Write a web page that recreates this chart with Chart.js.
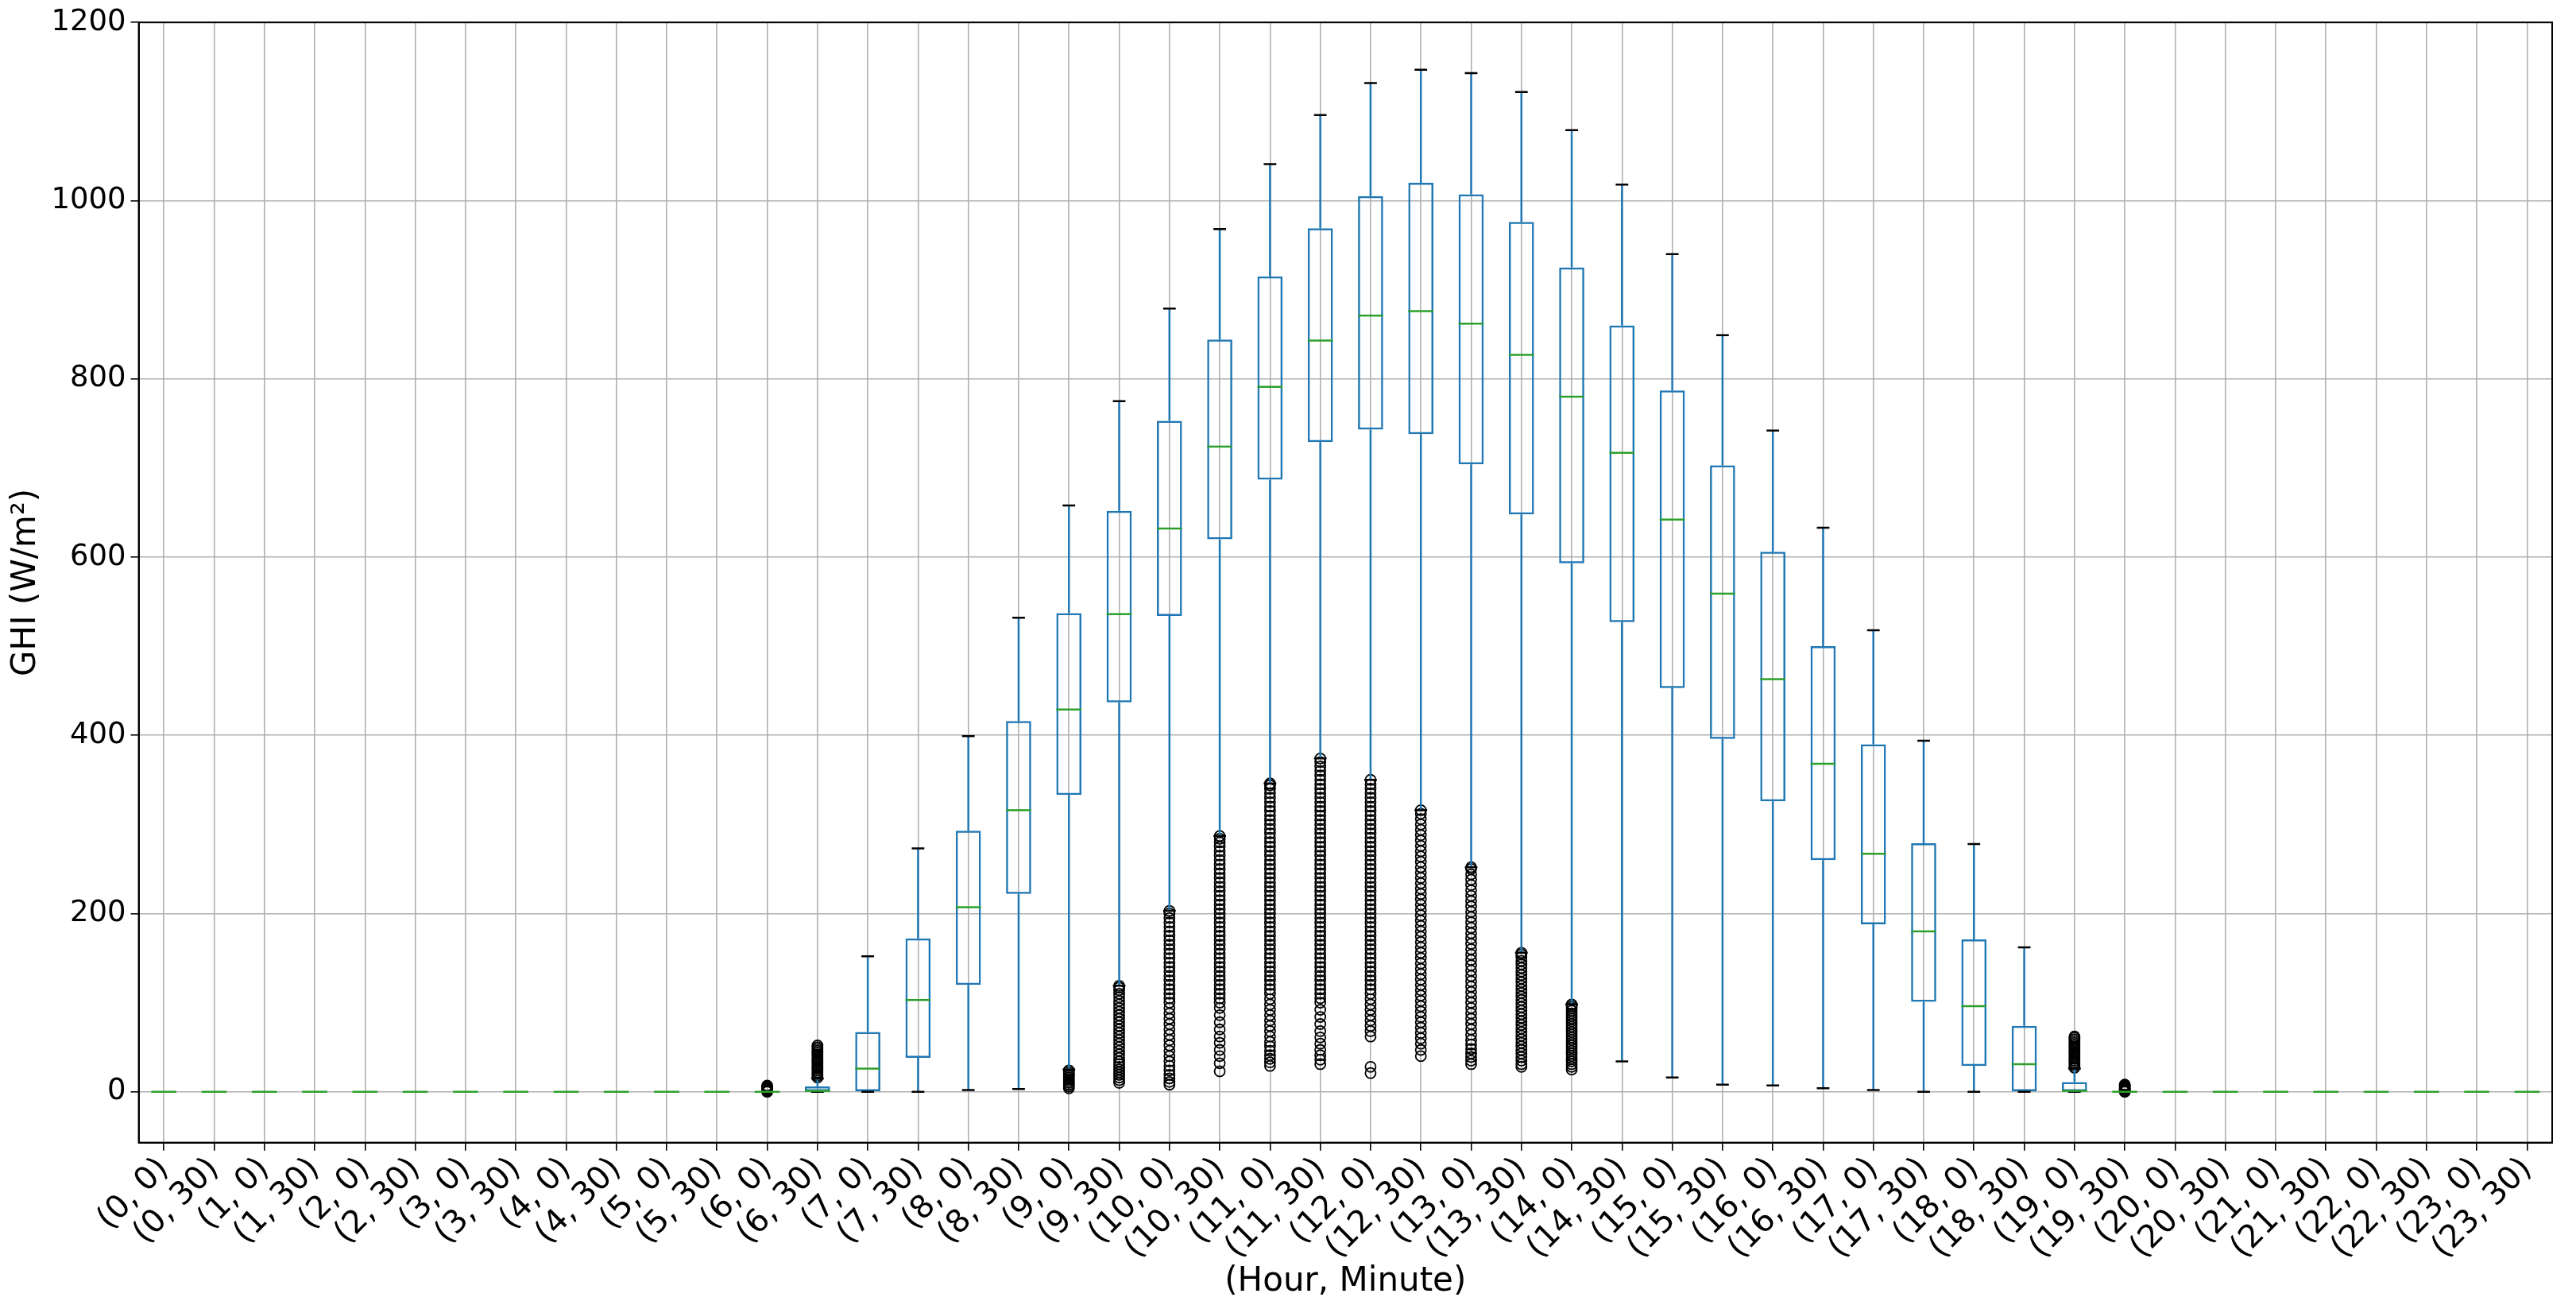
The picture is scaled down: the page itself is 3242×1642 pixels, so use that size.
<!DOCTYPE html>
<html><head><meta charset="utf-8">
<script src="https://cdn.jsdelivr.net/npm/chart.js@4.4.1/dist/chart.umd.min.js"></script>
<style>html,body{margin:0;padding:0;background:#fff}</style>
</head><body><canvas id="c" width="3242" height="1642" style="width:3242px;height:1642px"></canvas>
<script>
const categories = [];
for (let h = 0; h < 24; h++) { categories.push('(' + h + ', 0)'); categories.push('(' + h + ', 30)'); }
const whiskerLow = [0,0,0,0,0,0,0,0,0,0,0,0, 0,0,0,0,2,3,25,119,203,287,346,374,350,316,252,156,98,34,16,8, 7,4,2,0,0,0,0,0, 0,0,0,0,0,0,0,0];
const q1 =        [0,0,0,0,0,0,0,0,0,0,0,0, 0,0,0,38,120,222,333,437,534,620,687,729,743,738,704,648,593,527,453,396, 326,260,188,101,29,0,0,0, 0,0,0,0,0,0,0,0];
const medians =   [0,0,0,0,0,0,0,0,0,0,0,0, 0,1,26,103,207,316,429,536,632,724,791,843,871,876,862,827,780,717,642,559, 463,368,267,180,96,31,1,0, 0,0,0,0,0,0,0,0];
const q3 =        [0,0,0,0,0,0,0,0,0,0,0,0, 0,6,67,172,293,416,537,652,753,844,915,969,1005,1020,1007,976,925,860,787,703, 606,500,390,279,171,74,11,0, 0,0,0,0,0,0,0,0];
const whiskerHigh=[0,0,0,0,0,0,0,0,0,0,0,0, 0,15,152,273,399,532,658,775,879,968,1041,1096,1132,1147,1143,1122,1079,1018,940,849, 742,633,518,394,278,162,26,0, 0,0,0,0,0,0,0,0];
const outliers = {
  '(6, 0)': [0,1,2,3,4,5,6,7],
  '(6, 30)': [16,18,20,22,24,26,28,30,32,34,36,38,40,42,44,46,48,50,52],
  '(9, 0)': [4,6,8,10,12,14,16,18,20,22,24],
  '(9, 30)': [10,13,16,19,22,25,28,31,34,38,42,46,50,54,58,62,66,70,74,78,82,86,90,94,98,102,106,110,114,117,119],
  '(10, 0)': [8,11,15,19,24,29,34,40,46,52,58,64,70,76,82,88,94,100,105,110,115,120,125,130,135,140,145,150,155,160,165,170,175,180,185,190,195,200,203],
  '(10, 30)': [23,32,40,47,55,62,70,78,86,94,100,105,110,115,120,125,130,135,140,145,150,155,160,165,170,175,180,185,190,195,200,205,210,215,220,225,230,235,240,245,250,255,260,265,270,275,280,284,287],
  '(11, 0)': [29,33,37,41,46,51,56,62,68,74,80,86,92,98,104,110,115,120,125,130,135,140,145,150,155,160,165,170,175,180,185,190,195,200,205,210,215,220,225,230,235,240,245,250,255,260,265,270,275,280,285,290,295,300,305,310,315,320,325,330,335,340,344,346],
  '(11, 30)': [31,36,41,47,54,61,68,76,84,92,100,105,110,115,120,125,130,135,140,145,150,155,160,165,170,175,180,185,190,195,200,205,210,215,220,225,230,235,240,245,250,255,260,265,270,275,280,285,290,295,300,305,310,315,320,325,330,335,340,345,350,355,360,365,370,374],
  '(12, 0)': [21,28,62,68,74,80,86,92,98,104,110,115,120,125,130,135,140,145,150,155,160,165,170,175,180,185,190,195,200,205,210,215,220,225,230,235,240,245,250,255,260,265,270,275,280,285,290,295,300,305,310,315,320,325,330,335,340,345,350],
  '(12, 30)': [40,47,54,60,66,72,78,84,90,96,102,108,114,120,126,132,138,144,150,156,162,168,174,180,186,192,198,204,210,216,222,228,234,240,246,252,258,264,270,276,282,288,294,300,306,312,316],
  '(13, 0)': [31,35,39,43,48,53,58,64,70,76,82,88,94,100,106,112,118,124,130,136,142,148,154,160,166,172,178,184,190,196,202,208,214,220,226,232,238,244,250,252],
  '(13, 30)': [28,31,35,39,43,47,51,55,59,63,67,71,75,79,83,87,91,95,99,103,107,111,115,119,123,127,131,135,139,143,147,151,154,156],
  '(14, 0)': [25,28,31,34,37,40,43,46,49,52,55,58,61,64,67,70,73,76,79,82,85,88,91,94,96,98],
  '(19, 0)': [27,29,31,33,35,37,39,41,43,45,47,49,51,53,55,57,59,61,62],
  '(19, 30)': [0,1,2,3,4,5,6,7,8]
};
const yTicks = [0,200,400,600,800,1000,1200];

const outlierPoints = [];
for (const k in outliers) for (const v of outliers[k]) outlierPoints.push({x: k, y: v});

const BLUE = '#1f77b4', GREEN = '#2ca02c';
const boxPlugin = {
  id: 'boxparts',
  afterDatasetsDraw(chart) {
    const ctx = chart.ctx, x = chart.scales.x, y = chart.scales.y;
    const meta = chart.getDatasetMeta(0);
    ctx.save();
    categories.forEach((c, i) => {
      const bar = meta.data[i];
      const cx = x.getPixelForValue(i);
      const hw = bar.width / 2;
      const capw = hw / 2;
      const yl = y.getPixelForValue(whiskerLow[i]), yh = y.getPixelForValue(whiskerHigh[i]);
      const y1 = y.getPixelForValue(q1[i]), y3 = y.getPixelForValue(q3[i]);
      ctx.lineWidth = 2.5;
      if (whiskerHigh[i] !== q3[i] || whiskerLow[i] !== q1[i]) {
        ctx.strokeStyle = BLUE;
        ctx.beginPath(); ctx.moveTo(cx, y1); ctx.lineTo(cx, yl); ctx.moveTo(cx, y3); ctx.lineTo(cx, yh); ctx.stroke();
        ctx.strokeStyle = '#000';
        ctx.beginPath(); ctx.moveTo(cx - capw, yl); ctx.lineTo(cx + capw, yl); ctx.moveTo(cx - capw, yh); ctx.lineTo(cx + capw, yh); ctx.stroke();
      }
      ctx.strokeStyle = GREEN;
      const ym = y.getPixelForValue(medians[i]);
      ctx.beginPath(); ctx.moveTo(cx - hw, ym); ctx.lineTo(cx + hw, ym); ctx.stroke();
    });
    const a = chart.chartArea;
    ctx.strokeStyle = '#000'; ctx.lineWidth = 2;
    ctx.strokeRect(a.left, a.top, a.right - a.left, a.bottom - a.top);
    ctx.restore();
  }
};

new Chart(document.getElementById('c'), {
  type: 'bar',
  data: {
    labels: categories,
    datasets: [
      { data: categories.map((c, i) => [q1[i], q3[i]]), backgroundColor: 'rgba(0,0,0,0)', borderColor: BLUE, borderWidth: 2.5, borderSkipped: false, barPercentage: 0.5, categoryPercentage: 1, order: 2 },
      { type: 'line', data: outlierPoints, showLine: false, pointStyle: 'circle', pointRadius: 6.5, pointBorderWidth: 1.8, pointBorderColor: '#000', pointBackgroundColor: 'rgba(0,0,0,0)', order: 1 }
    ]
  },
  plugins: [boxPlugin],
  options: {
    responsive: false, animation: false, devicePixelRatio: 1,
    layout: { padding: { left: 0, right: 30, top: 20, bottom: 4 } },
    plugins: { legend: { display: false }, tooltip: { enabled: false } },
    scales: {
      x: {
        offset: true,
        grid: { offset: false, color: '#b0b0b0', lineWidth: 1.6, tickColor: '#000', tickLength: 10 },
        border: { color: '#000', width: 2 },
        ticks: { maxRotation: 45, minRotation: 45, autoSkip: false, color: '#000', font: { family: 'DejaVu Sans', size: 40 }, padding: 0 },
        title: { display: true, text: '(Hour, Minute)', color: '#000', font: { family: 'DejaVu Sans', size: 42 }, padding: { top: -6, bottom: 0 } }
      },
      y: {
        min: -57, max: 1200,
        afterBuildTicks(s) { s.ticks = yTicks.map(v => ({ value: v })); },
        grid: { color: '#b0b0b0', lineWidth: 1.6, tickColor: '#000', tickLength: 10 },
        border: { color: '#000', width: 2 },
        ticks: { color: '#000', font: { family: 'DejaVu Sans', size: 37 }, padding: 6, callback: v => String(v) },
        title: { display: true, text: 'GHI (W/m²)', color: '#000', font: { family: 'DejaVu Sans', size: 42 }, padding: { top: 8, bottom: 0 } }
      }
    }
  }
});
</script></body></html>
